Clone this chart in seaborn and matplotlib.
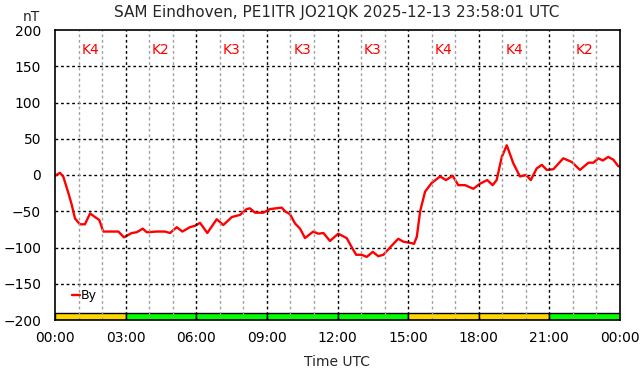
import numpy as np
import matplotlib
matplotlib.use("Agg")
import matplotlib.pyplot as plt
import seaborn as sns

# By component (nT), time in hours UTC
hours = [0.0, 0.21, 0.35, 0.57, 0.71, 0.85, 1.06, 1.27, 1.49, 1.70, 1.88, 2.05,
         2.34, 2.69, 2.93, 3.26, 3.47, 3.73, 3.90, 4.32, 4.67, 4.89, 5.17, 5.41,
         5.73, 5.95, 6.16, 6.47, 6.87, 7.15, 7.51, 7.86, 8.14, 8.28, 8.50, 8.85,
         9.13, 9.63, 9.77, 9.98, 10.20, 10.41, 10.62, 10.97, 11.19, 11.40, 11.68,
         12.03, 12.39, 12.56, 12.79, 13.03, 13.24, 13.50, 13.73, 13.95, 14.23,
         14.58, 14.80, 15.15, 15.25, 15.37, 15.51, 15.72, 16.00, 16.36, 16.61,
         16.89, 17.13, 17.42, 17.77, 18.05, 18.36, 18.59, 18.76, 18.98, 19.19,
         19.47, 19.75, 20.01, 20.21, 20.46, 20.68, 20.89, 21.17, 21.59, 21.95,
         22.30, 22.66, 22.87, 23.08, 23.27, 23.50, 23.72, 23.93, 24.0]
by_nt = [-1, 3, -2, -25, -41, -60, -68, -68, -53, -58, -62, -78,
         -78, -78, -86, -80, -79, -74, -79, -78, -78, -80, -72, -78,
         -72, -70, -66, -80, -61, -69, -58, -55, -47, -46, -52, -52,
         -47, -45, -50, -54, -67, -74, -87, -78, -81, -80, -91,
         -81, -87, -97, -110, -110, -113, -106, -112, -110, -100,
         -88, -92, -94, -95, -85, -50, -23, -11, -2, -7,
         -1, -14, -14, -19, -12, -7, -14, -7, 25, 41,
         16, -2, 0, -7, 9, 14, 7, 8, 23, 18,
         7, 17, 17, 23, 20, 25, 21, 12, 12]

# K index per 3-hour block
k_index = [4, 2, 3, 3, 3, 4, 4, 2]
k_colors = {2: "#00ff00", 3: "#00ff00", 4: "#ffd700"}
tick_labels = ["00:00", "03:00", "06:00", "09:00", "12:00",
               "15:00", "18:00", "21:00", "00:00"]

sns.set_style("white")
plt.rcParams["font.family"] = ["DejaVu Sans"]

fig = plt.figure(figsize=(6.42, 3.76), dpi=100)
ax = fig.add_axes([55 / 642, 1 - 320 / 376, 565 / 642, 290 / 376])

sns.lineplot(x=hours, y=by_nt, color="red", linewidth=1.7, label="By", ax=ax)

# K index bar at the bottom
block_starts = np.arange(len(k_index)) * 3
ax.bar(block_starts, 10, width=3, bottom=-200, align="edge",
       color=[k_colors[k] for k in k_index], edgecolor="black", linewidth=1,
       zorder=1)
for x0, k in zip(block_starts, k_index):
    ax.text(x0 + 1.5, 172, f"K{k}", color="red", ha="center", va="center",
            fontsize=10)

ax.set_xlim(0, 24)
ax.set_ylim(-200, 200)
ax.set_xticks(np.arange(0, 25, 3))
ax.set_xticklabels(tick_labels)
ax.set_yticks(np.arange(-200, 201, 50))

ax.grid(False)
for h in range(1, 24):
    if h % 3 == 0:
        ax.axvline(h, color="black", linestyle=(0, (2, 2)), linewidth=1, zorder=2)
    else:
        ax.axvline(h, color="#a0a0a0", linestyle=(0, (2, 2)), linewidth=1, zorder=2)
for v in range(-150, 200, 50):
    ax.axhline(v, color="black", linestyle=(0, (2, 2)), linewidth=1, zorder=0)

for s in ax.spines.values():
    s.set_visible(True)
    s.set_color("black")
    s.set_linewidth(1.2)
    s.set_zorder(5)

ax.tick_params(axis="both", which="both", length=0, labelsize=10, colors="black")
ax.tick_params(axis="x", pad=8)
ax.tick_params(axis="y", pad=10)
ax.set_xlabel("")
ax.set_ylabel("")

ax.legend(loc="center left", bbox_to_anchor=(17 / 565, 24 / 290), frameon=False,
          handlelength=0.6, handletextpad=0.1, fontsize=9, labelcolor="black",
          borderaxespad=0, borderpad=0)

fig.text(337 / 642, 1 - 12 / 376, "SAM Eindhoven, PE1ITR JO21QK 2025-12-13 23:58:01 UTC",
         ha="center", va="center", fontsize=11)
fig.text(31 / 642, 1 - 17 / 376, "nT", ha="center", va="center", fontsize=10)
fig.text(337 / 642, 1 - 362 / 376, "Time UTC", ha="center", va="center", fontsize=10)

fig.savefig("out.png", dpi=100)
